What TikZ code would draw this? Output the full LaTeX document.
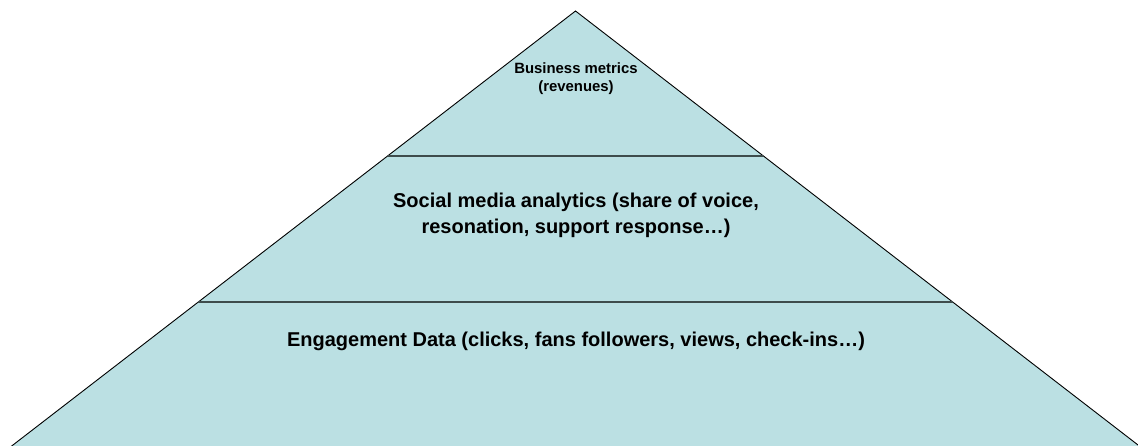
\documentclass[tikz,border=0pt]{standalone}
\usepackage{fontspec}
\setmainfont{Liberation Sans}
\usetikzlibrary{calc}
\definecolor{pyrfill}{HTML}{BBE0E3}
\definecolor{divline}{HTML}{3E4C4C}
\begin{document}
\begin{tikzpicture}[x=1pt,y=-1pt,
  outline/.style={draw=black,line width=0.9pt},
  divider/.style={draw=divline,line width=2pt},
  label/.style={font=\bfseries,align=center,inner sep=0pt,text=black}]
\useasboundingbox (0,0) rectangle (1138,445);
\coordinate (apex) at (575.5,11);
\coordinate (bl) at (13,445);
\coordinate (br) at (1138,445);
\coordinate (bl2) at (0,455);
\coordinate (br2) at (1151,455);
\fill[pyrfill] (apex) -- (bl2) -- (br2) -- cycle;
\draw[outline] (bl2) -- (apex) -- (br2);
\coordinate (d1l) at ($(apex)!0.333!(bl)$);
\coordinate (d1r) at ($(apex)!0.333!(br)$);
\coordinate (d2l) at ($(apex)!0.6705!(bl)$);
\coordinate (d2r) at ($(apex)!0.6705!(br)$);
\draw[divider] (d1l) -- (d1r);
\draw[divider] (d2l) -- (d2r);
\node[label,font=\bfseries\fontsize{14.9}{18.4}\selectfont] (top) at (576,78.6)
  {Business metrics\\(revenues)};
\node[label,font=\bfseries\fontsize{20}{26}\selectfont] (mid) at (576,215.1)
  {Social media analytics (share of voice,\\resonation, support response…)};
\node[label,font=\bfseries\fontsize{20}{24}\selectfont,anchor=base] (bot) at (576,346.7)
  {Engagement Data (clicks, fans followers, views, check-ins…)};
\end{tikzpicture}
\end{document}
